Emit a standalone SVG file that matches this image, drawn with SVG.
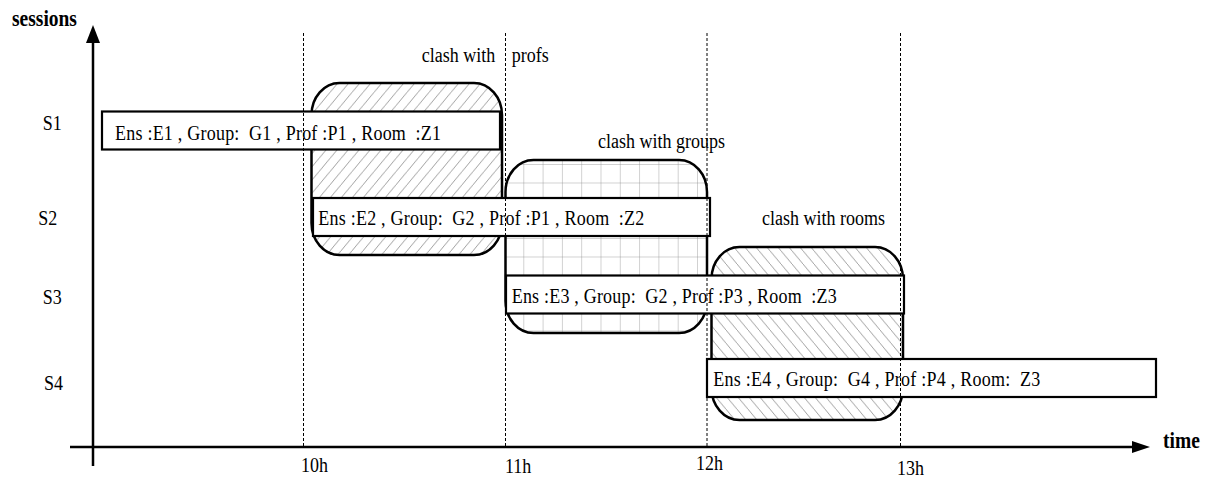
<svg xmlns="http://www.w3.org/2000/svg" width="1210" height="479" viewBox="0 0 1210 479">
<defs>
<style>
.t{font-family:"Liberation Serif","Times New Roman",serif;font-size:18px;fill:#000}
.b{font-family:"Liberation Serif","Times New Roman",serif;font-size:19.5px;font-weight:bold;fill:#000}
.bar{fill:#fff;stroke:#000;stroke-width:2.2}
.clash{stroke:#000;stroke-width:2.5}
.axis{stroke:#000;stroke-width:2.5;fill:none}
.grid{stroke:#000;stroke-width:1;stroke-dasharray:3 2;fill:none}
.h{stroke:#8c8c8c;stroke-width:0.8;fill:none}
</style>
<pattern id="hatchF" patternUnits="userSpaceOnUse" width="11" height="13.2">
<line class="h" x1="-1" y1="14.4" x2="12" y2="-1.2"/>
</pattern>
<pattern id="hatchB" patternUnits="userSpaceOnUse" width="11" height="13.2">
<line class="h" x1="-1" y1="-1.2" x2="12" y2="14.4"/>
</pattern>
<pattern id="gridP" patternUnits="userSpaceOnUse" x="504" y="164" width="19.3" height="18.5">
<path class="h" d="M0 0H19.3M0 0V18.5"/>
</pattern>
</defs>
<rect width="1210" height="479" fill="#fff"/>

<g id="connectors">
<line class="axis" x1="93" y1="466" x2="93" y2="42"/>
<polygon points="86,43 100,43 93,25" fill="#000"/>
<line class="axis" x1="70" y1="447" x2="1133" y2="447"/>
<polygon points="1132,441 1132,453 1150,447" fill="#000"/>
</g>

<g id="clash-profs">
<rect class="clash" x="311.5" y="83" width="190.5" height="172" rx="28" ry="32" fill="url(#hatchF)"/>
<text class="t" transform="translate(421.7,61.5) scale(1,1.2)">clash with<tspan x="90">profs</tspan></text>
</g>
<g id="clash-groups">
<rect class="clash" x="505.5" y="160" width="201.5" height="173" rx="28" ry="32" fill="url(#gridP)"/>
<text class="t" transform="translate(598,148) scale(1,1.2)">clash with groups</text>
</g>
<g id="clash-rooms">
<rect class="clash" x="711.5" y="247" width="191.5" height="173" rx="28" ry="32" fill="url(#hatchB)"/>
<text class="t" transform="translate(762,225) scale(1,1.2)">clash with rooms</text>
</g>

<g id="session-S1">
<rect class="bar" x="102" y="111.5" width="398" height="38"/>
<text class="t" xml:space="preserve" transform="translate(115,140) scale(1,1.2)" textLength="326" lengthAdjust="spacing">Ens :E1 , Group:  G1 , Prof :P1 , Room  :Z1</text>
</g>
<g id="session-S2">
<rect class="bar" x="313" y="198" width="397" height="38"/>
<text class="t" xml:space="preserve" transform="translate(318.3,225) scale(1,1.2)" textLength="326" lengthAdjust="spacing">Ens :E2 , Group:  G2 , Prof :P1 , Room  :Z2</text>
</g>
<g id="session-S3">
<rect class="bar" x="506" y="275.5" width="398" height="38"/>
<text class="t" xml:space="preserve" transform="translate(511.7,303) scale(1,1.2)" textLength="325" lengthAdjust="spacing">Ens :E3 , Group:  G2 , Prof :P3 , Room  :Z3</text>
</g>
<g id="session-S4">
<rect class="bar" x="707" y="359" width="449" height="38"/>
<text class="t" xml:space="preserve" transform="translate(713.3,386) scale(1,1.2)" textLength="327" lengthAdjust="spacing">Ens :E4 , Group:  G4 , Prof :P4 , Room:  Z3</text>
</g>

<g id="time-grid">
<line class="grid" x1="303.5" y1="33" x2="303.5" y2="447"/>
<line class="grid" x1="505.5" y1="33" x2="505.5" y2="447"/>
<line class="grid" x1="707" y1="33" x2="707" y2="447"/>
<line class="grid" x1="900.5" y1="33" x2="900.5" y2="447"/>
</g>

<g id="labels">
<text class="b" transform="translate(12,26) scale(1,1.2)">sessions</text>
<text class="b" transform="translate(1163,448) scale(1,1.2)">time</text>
<text class="t" transform="translate(42.7,129.5) scale(1,1.2)">S1</text>
<text class="t" transform="translate(38.3,225) scale(1,1.2)">S2</text>
<text class="t" transform="translate(42.7,304) scale(1,1.2)">S3</text>
<text class="t" transform="translate(44,390) scale(1,1.2)">S4</text>
<text class="t" transform="translate(301,472) scale(1,1.2)">10h</text>
<text class="t" transform="translate(505,473) scale(1,1.2)">11h</text>
<text class="t" transform="translate(696,470) scale(1,1.2)">12h</text>
<text class="t" transform="translate(897,475) scale(1,1.2)">13h</text>
</g>
</svg>
